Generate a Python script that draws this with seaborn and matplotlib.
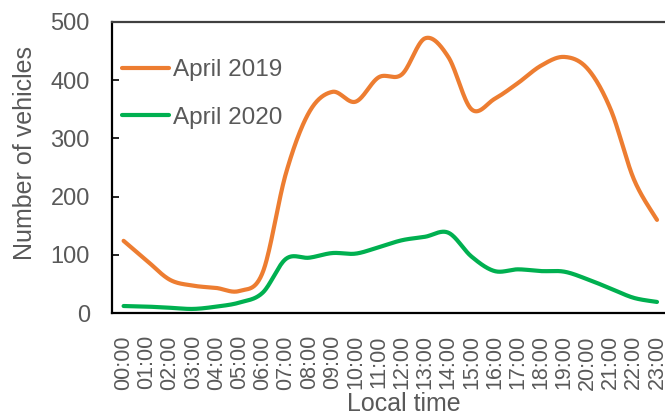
import numpy as np
import pandas as pd
import matplotlib
matplotlib.use("Agg")
import matplotlib.pyplot as plt
import seaborn as sns

# Hourly average vehicle counts
hours = [f"{h:02d}:00" for h in range(24)]
april_2019 = [124, 90, 57, 47, 43, 38, 70, 240, 345, 380, 363, 405,
              410, 472, 440, 350, 368, 395, 425, 440, 420, 350, 230, 160]
april_2020 = [12, 11, 9, 7, 11, 18, 35, 93, 95, 103, 102, 113,
              125, 131, 138, 97, 72, 75, 72, 71, 58, 42, 26, 19]
series_names = ["April 2019", "April 2020"]
series_colors = ["#ED7D31", "#00B050"]

TEXT = "#595959"


def smooth(y, steps=30):
    """Catmull-Rom curve through the hourly points (smoothed-line look)."""
    y = np.asarray(y, dtype=float)
    x = np.arange(len(y), dtype=float)
    px = np.concatenate([[x[0]], x, [x[-1]]])
    py = np.concatenate([[y[0]], y, [y[-1]]])
    xs, ys = [], []
    for i in range(1, len(px) - 2):
        p0, p1, p2, p3 = py[i - 1], py[i], py[i + 1], py[i + 2]
        q0, q1, q2, q3 = px[i - 1], px[i], px[i + 1], px[i + 2]
        t = np.linspace(0, 1, steps, endpoint=(i == len(px) - 3))
        t2, t3 = t * t, t * t * t
        def cr(a0, a1, a2, a3):
            return 0.5 * ((2 * a1) + (-a0 + a2) * t
                          + (2 * a0 - 5 * a1 + 4 * a2 - a3) * t2
                          + (-a0 + 3 * a1 - 3 * a2 + a3) * t3)
        xs.append(cr(q0, q1, q2, q3))
        ys.append(cr(p0, p1, p2, p3))
    return np.concatenate(xs), np.concatenate(ys)


frames = []
for name, vals in zip(series_names, [april_2019, april_2020]):
    sx, sy = smooth(vals)
    frames.append(pd.DataFrame({"hour": sx, "vehicles": sy, "series": name}))
df = pd.concat(frames, ignore_index=True)

sns.set_theme(style="white")
plt.rcParams["font.family"] = ["Liberation Sans", "DejaVu Sans"]

fig = plt.figure(figsize=(6.65, 4.16), dpi=100)
ax = fig.add_axes([112 / 665, 103 / 416, 556.6 / 665, 291 / 416])

sns.lineplot(data=df, x="hour", y="vehicles", hue="series",
             hue_order=series_names, palette=series_colors,
             linewidth=3.0, sort=False, estimator=None, ax=ax)

ax.set_xlim(-0.5, 23.5)
ax.set_ylim(0, 500)
ax.set_yticks([0, 100, 200, 300, 400, 500])
ax.set_xticks(range(24))
ax.set_xticklabels(hours, rotation=90, va="top", ha="center")

ax.tick_params(axis="y", direction="in", length=5, width=1.2, color="black",
               labelsize=17, labelcolor=TEXT, pad=16, left=True)
ax.tick_params(axis="x", length=0, labelsize=15.5, labelcolor=TEXT, pad=16)

for side, sp in ax.spines.items():
    sp.set_visible(True)
    sp.set_color("black")
    sp.set_linewidth(1.6)
ax.spines["top"].set_color("#404040")

ax.set_xlabel("Local time", fontsize=18, color=TEXT)
ax.set_ylabel("Number of vehicles", fontsize=18, color=TEXT)
ax.xaxis.set_label_coords((404 - 112) / 556.6, -(392 - 313) / 291)
ax.xaxis.label.set_va("top")
ax.yaxis.set_label_coords(-(112 - 37) / 556.6, (313 - 153) / 291)

leg = ax.legend(loc="upper left", bbox_to_anchor=(0.0, 0.905), frameon=False,
                fontsize=17.5, handlelength=1.95, handletextpad=0.15,
                labelspacing=1.05, borderpad=0.0, borderaxespad=0.4)
for t in leg.get_texts():
    t.set_color(TEXT)
for h in leg.get_lines():
    h.set_linewidth(3.0)

fig.savefig("out.png", dpi=100)
